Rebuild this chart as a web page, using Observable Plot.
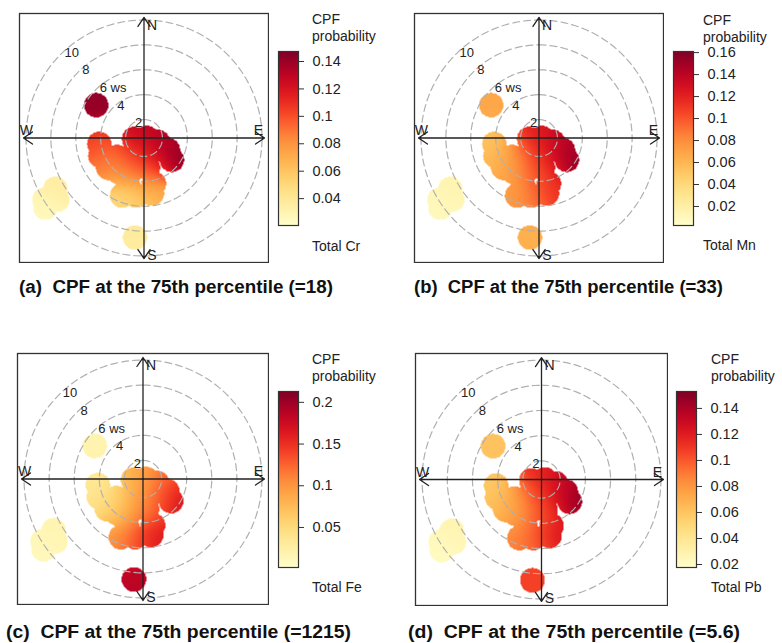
<!DOCTYPE html>
<html><head><meta charset="utf-8">
<script src="https://cdn.jsdelivr.net/npm/d3@7"></script>
<script src="https://cdn.jsdelivr.net/npm/@observablehq/plot@0.6"></script>
<style>
body{margin:0;background:#fff;}
#root{position:relative;width:782px;height:643px;overflow:hidden;font-family:"Liberation Sans",Arial,sans-serif;color:#222;}
.abs{position:absolute;}
.lg{font-size:14px;line-height:16.5px;white-space:nowrap;}
.cap{font-family:"Liberation Sans",Arial,sans-serif;font-weight:bold;font-size:18px;line-height:24px;white-space:pre;transform-origin:0 50%;color:#111;}
</style></head><body><div id="root"></div>
<script>
// ---- data ----
const rings = [2, 4, 6, 8, 10];
const ringLabels = ["2", "4", "6 ws", "8", "10"];
const compass = ["N", "E", "S", "W"];
const panelLetters = ["(a)", "(b)", "(c)", "(d)"];
const elements = ["Cr", "Mn", "Fe", "Pb"];
const thresholds = ["18", "33", "1215", "5.6"];
// occupied wind bins (east / north components, display units)
const maskU = [-0.8,0.24,1.12,1.92,2.24,0.64,-0.32,-1.44,-2.16,-3.6,-3.52,-2.88,-2.08,-0.96,0.32,-1.76,-0.64,0.64,0.8,-1.28,-7.12,-7.92,-6.96,-8.0,-0.72,-3.84];
const maskV = [-0.08,0,-0.32,-0.96,-1.76,-1.12,-1.28,-1.6,-1.52,-0.48,-1.44,-2.4,-2.72,-2.56,-2.4,-4.64,-4.64,-4.48,-3.68,-3.76,-4.08,-5.6,-4.96,-4.96,-8.0,2.64];
// CPF sample locations
const sampleU = [-3.84,-7.12,-7.92,-0.72,-0.48,0.96,2.4,1.76,-3.76,-3.2,-1.76,-0.32,0.8,-2.24,-0.64,0.64,-1.92,-0.48,0.96];
const sampleV = [2.64,-4.16,-5.6,-8.0,0,-0.16,-1.76,-0.8,-0.32,-1.76,-1.44,-1.44,-1.6,-2.72,-2.72,-2.56,-4.8,-4.8,-4.16];
// CPF values per element at the sample locations
const cpfCr = [0.142,0.036,0.026,0.037,0.127,0.13,0.145,0.138,0.105,0.09,0.1,0.11,0.12,0.075,0.085,0.092,0.05,0.058,0.07];
const cpfMn = [0.068,0.015,0.01,0.063,0.12,0.13,0.158,0.145,0.053,0.058,0.08,0.105,0.125,0.07,0.09,0.11,0.072,0.09,0.115];
const cpfFe = [0.019,0.018,0.012,0.185,0.08,0.105,0.175,0.14,0.034,0.04,0.055,0.088,0.122,0.072,0.097,0.128,0.1,0.14,0.168];
const cpfPb = [0.061,0.028,0.022,0.107,0.115,0.122,0.15,0.14,0.058,0.06,0.08,0.1,0.12,0.075,0.09,0.108,0.085,0.1,0.125];
// colour-bar domains and ticks
const domains = [[0.0204,0.1473],[0.0027,0.161],[0.002,0.213],[0.0177,0.153]];
const ticksCr = [0.04,0.06,0.08,0.1,0.12,0.14];
const ticksMn = [0.02,0.04,0.06,0.08,0.1,0.12,0.14,0.16];
const ticksFe = [0.05,0.1,0.15,0.2];
const ticksPb = [0.02,0.04,0.06,0.08,0.1,0.12,0.14];

// ---- layout ----
const OFFSET = 0.52, HALF = 10, TIP = 9.68, MASK_R = 0.98, SIG = 1.0;
const layout = [
  {left:19, top:13, size:249, barX:278, barTop:51, barBot:225, txt:312, cpfY:19, totY:246, capX:19, capY:287, capW:314},
  {left:414, top:13, size:249, barX:673, barTop:51, barBot:225, txt:703, cpfY:20, totY:245, capX:414, capY:287, capW:309},
  {left:17, top:353, size:251, barX:278, barTop:391, barBot:567, txt:312, cpfY:359, totY:587, capX:6, capY:632, capW:345},
  {left:415, top:353, size:252, barX:676, barTop:391, barBot:567, txt:711, cpfY:359, totY:587, capX:408, capY:632, capW:332}
];
const values = [cpfCr, cpfMn, cpfFe, cpfPb];
const ticks = [ticksCr, ticksMn, ticksFe, ticksPb];
const root = document.getElementById("root");

function field(vals) {
  const R2 = MASK_R * MASK_R, s2 = 2 * SIG * SIG;
  return (x, y) => {
    let inside = false;
    for (let i = 0; i < maskU.length; i++) {
      const dx = x - maskU[i], dy = y - maskV[i];
      if (dx * dx + dy * dy <= R2) { inside = true; break; }
    }
    if (!inside) return NaN;
    let sw = 0, s = 0;
    for (let i = 0; i < sampleU.length; i++) {
      const dx = x - sampleU[i], dy = y - sampleV[i];
      const w = Math.exp(-(dx * dx + dy * dy) / s2);
      sw += w; s += w * vals[i];
    }
    return sw > 0 ? s / sw : NaN;
  };
}

const ringPts = rings.flatMap(k => d3.range(0, 361, 2).map(a => ({k, x: (k - OFFSET) * Math.sin(a * Math.PI / 180), y: (k - OFFSET) * Math.cos(a * Math.PI / 180)})));
const ringLab = rings.map((k, i) => ({t: ringLabels[i], x: -(k - OFFSET) * Math.SQRT1_2, y: (k - OFFSET) * Math.SQRT1_2}));
const dirs = {N:[0,1,8,8], E:[1,0,-6,-7], S:[0,-1,8,-3], W:[-1,0,3,-7]};

function place(el, left, top) {
  const d = document.createElement("div");
  d.className = "abs"; d.style.left = left + "px"; d.style.top = top + "px";
  d.appendChild(el); root.appendChild(d); return d;
}
function text(html, cls, left, top) {
  const d = document.createElement("div");
  d.className = "abs " + cls; d.innerHTML = html;
  d.style.left = left + "px"; d.style.top = top + "px";
  root.appendChild(d); return d;
}

layout.forEach((L, p) => {
  const dom = domains[p];
  const color = {type: "linear", scheme: "YlOrRd", domain: dom};
  const polar = Plot.plot({
    width: L.size + 2, height: L.size + 2, margin: 1,
    x: {domain: [-HALF, HALF], axis: null},
    y: {domain: [-HALF, HALF], axis: null},
    color,
    style: {fontFamily: "Liberation Sans, Arial, sans-serif", fontSize: "14px", color: "#222", background: "transparent"},
    marks: [
      Plot.raster({fill: field(values[p]), x1: -HALF, x2: HALF, y1: -HALF, y2: HALF, pixelSize: 1}),
      Plot.line(ringPts, {x: "x", y: "y", z: "k", stroke: "#b0b0b0", strokeWidth: 1.2, strokeDasharray: "7,4"}),
      Plot.arrow(compass, {x1: 0, y1: 0, x2: d => dirs[d][0] * TIP, y2: d => dirs[d][1] * TIP, stroke: "#222", strokeWidth: 1.3, headLength: 12.5, headAngle: 68}),
      ...compass.map(c => Plot.text([c], {x: dirs[c][0] * TIP, y: dirs[c][1] * TIP, text: d => d, dx: dirs[c][2], dy: dirs[c][3], fontSize: 14, fill: "#222"})),
      Plot.text(ringLab, {x: "x", y: "y", text: "t", textAnchor: "start", dx: 4, dy: -2, fontSize: 13, fill: "#222"}),
      Plot.frame({stroke: "#333", strokeWidth: 1.3})
    ]
  });
  place(polar, L.left - 1, L.top - 1);

  const mt = 10, barH = L.barBot - L.barTop;
  const bar = Plot.plot({
    width: 20 + 60, height: barH + 2 * mt,
    marginLeft: 0, marginRight: 60, marginTop: mt, marginBottom: mt,
    x: {domain: [0, 1], axis: null},
    y: {domain: dom, axis: null},
    color,
    style: {fontFamily: "Liberation Sans, Arial, sans-serif", fontSize: "14.5px", color: "#222", background: "transparent", overflow: "visible"},
    marks: [
      Plot.raster({fill: (x, y) => y, x1: 0, x2: 1, y1: dom[0], y2: dom[1], pixelSize: 1}),
      Plot.frame({stroke: "#333", strokeWidth: 1.2}),
      Plot.axisY(ticks[p], {anchor: "right", tickSize: 5, tickPadding: 9, label: null, tickFormat: d => String(d), fontSize: 14.5, stroke: "#333"})
    ]
  });
  place(bar, L.barX, L.barTop - mt);

  text("CPF<br>probability", "lg", L.txt, L.cpfY - 8);
  text("Total " + elements[p], "lg", L.txt, L.totY - 8);

  const cap = document.createElement("div");
  cap.className = "abs cap";
  cap.textContent = panelLetters[p] + "  CPF at the 75th percentile (=" + thresholds[p] + ")";
  cap.style.left = L.capX + "px"; cap.style.top = (L.capY - 12) + "px";
  root.appendChild(cap);
  const w = cap.getBoundingClientRect().width;
  cap.style.transform = "scaleX(" + (L.capW / w).toFixed(4) + ")";
});
</script></body></html>
